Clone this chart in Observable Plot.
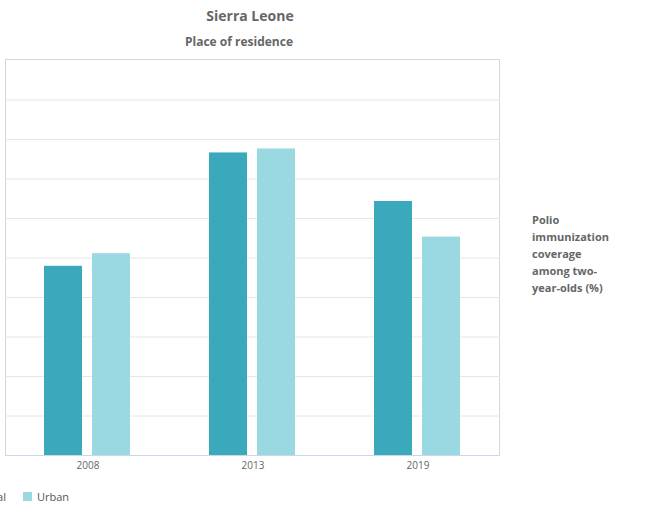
<!DOCTYPE html>
<html>
<head>
<meta charset="utf-8">
<script src="https://cdn.jsdelivr.net/npm/d3@7"></script>
<script src="https://cdn.jsdelivr.net/npm/@observablehq/plot@0.6"></script>
<style>
  html, body { margin: 0; padding: 0; background: #fff; }
  body { font-family: "Open Sans", sans-serif; }
  #wrap { position: relative; width: 669px; height: 513px; overflow: hidden; }
  #title { position: absolute; top: 6px; left: 150px; width: 200px; text-align: center;
           font-size: 14px; font-weight: bold; color: #666; }
  #subtitle { position: absolute; top: 33px; left: 139px; width: 200px; text-align: center;
              font-size: 12px; font-weight: bold; color: #666; }
  #frame { position: absolute; left: 5px; top: 59px; width: 495px; height: 397px;
           border: 1px solid #d6d6d6; box-sizing: border-box; }
  #chart { position: absolute; left: 0; top: 50px; }
  #ylabel { position: absolute; left: 532px; top: 211px; width: 90px;
            font-size: 11px; font-weight: bold; color: #666; line-height: 17px; }
  #legend { position: absolute; top: 489px; left: -35px; font-size: 11px; color: #555;
            display: flex; gap: 17px; align-items: center; }
  #legend span.item { display: flex; align-items: center; }
  #legend span.sw { display: inline-block; width: 9px; height: 9px; margin-right: 5px; }
</style>
</head>
<body>
<div id="wrap">
  <div id="frame"></div>
  <div id="chart"></div>
  <div id="title"></div>
  <div id="subtitle"></div>
  <div id="ylabel"></div>
  <div id="legend"></div>
</div>
<script>
const title = "Sierra Leone";
const subtitle = "Place of residence";
const yLabel = "Polio immunization coverage among two-year-olds (%)";
const years = ["2008", "2013", "2019"];
const series = ["Rural", "Urban"];
const rural = [47.9, 76.6, 64.3];
const urban = [51.1, 77.6, 55.3];
const yTicks = [10, 20, 30, 40, 50, 60, 70, 80, 90];
const colors = ["#3ba9bc", "#9ad8e2"];

const data = [];
years.forEach((y, i) => {
  data.push({year: y, place: series[0], value: rural[i]});
  data.push({year: y, place: series[1], value: urban[i]});
});

document.getElementById("title").textContent = title;
document.getElementById("subtitle").textContent = subtitle;
document.getElementById("ylabel").textContent = yLabel;

const plot = Plot.plot({
  width: 669,
  height: 426,
  marginTop: 10,
  marginBottom: 21,
  marginLeft: 5,
  marginRight: 169,
  style: {background: "transparent", fontFamily: "Open Sans, sans-serif", fontSize: "10px", color: "#666"},
  fx: {domain: years, padding: 0, label: null, axis: "bottom", tickSize: 0, tickPadding: 6},
  x: {domain: series, paddingInner: 0.2, paddingOuter: 0.8, axis: null},
  y: {domain: [0, 100], axis: null},
  color: {domain: series, range: colors},
  marks: [
    Plot.ruleY(yTicks, {stroke: "#e6e6e6", strokeOpacity: 1}),
    Plot.barY(data, {fx: "year", x: "place", y: "value", fill: "place"}),
    Plot.ruleY([0], {stroke: "#ccd6eb", strokeOpacity: 1})
  ]
});
document.getElementById("chart").appendChild(plot);

const legend = document.getElementById("legend");
series.forEach((s, i) => {
  const item = document.createElement("span");
  item.className = "item";
  const sw = document.createElement("span");
  sw.className = "sw";
  sw.style.background = colors[i];
  item.appendChild(sw);
  item.appendChild(document.createTextNode(s));
  legend.appendChild(item);
});
</script>
</body>
</html>
